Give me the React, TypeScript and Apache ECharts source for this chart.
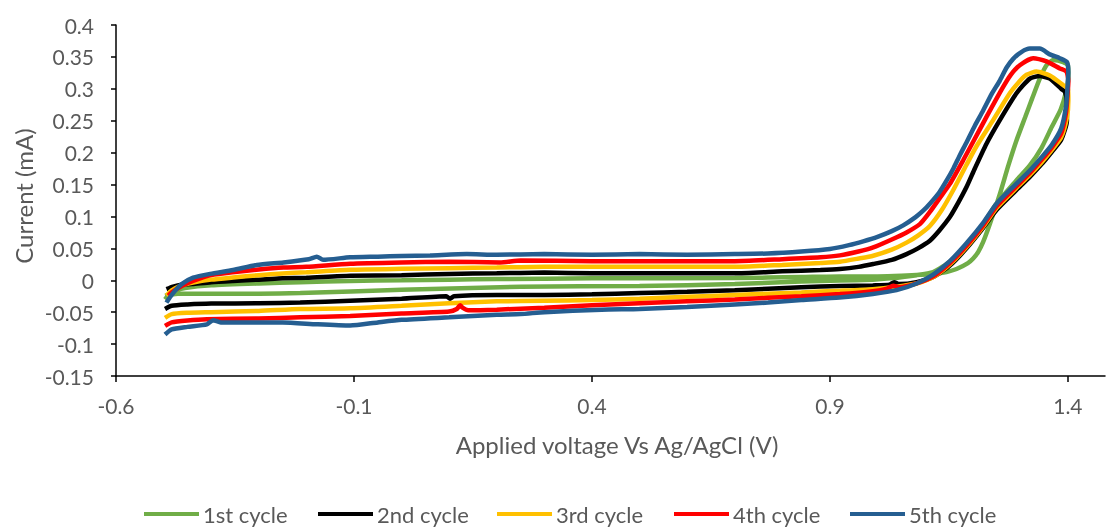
import React, { useEffect, useRef } from "react";
import * as echarts from "echarts";

const voltageTicks = [-0.6, -0.1, 0.4, 0.9, 1.4];
const currentTicks = [-0.15, -0.1, -0.05, 0, 0.05, 0.1, 0.15, 0.2, 0.25, 0.3, 0.35, 0.4];
const seriesNames = ["1st cycle", "2nd cycle", "3rd cycle", "4th cycle", "5th cycle"];
const seriesColors = ["#70AD47", "#000000", "#FFC000", "#FF0000", "#255E91"];

// [voltage (V), current (mA)] — forward scan then reverse scan
const cycle1: [number, number][] = [
  [-0.497, -0.03], [-0.487, -0.021], [-0.476, -0.016], [-0.455, -0.012], [-0.4, -0.008], [-0.3, -0.005],
  [-0.213, -0.003], [-0.108, -0.001], [0.0, 0.0], [0.1, 0.001], [0.2, 0.002], [0.4, 0.003], [0.7, 0.0035],
  [0.84, 0.005], [0.92, 0.006], [1.0, 0.006], [1.05, 0.007], [1.117, 0.0097], [1.145, 0.013], [1.166, 0.0176],
  [1.19, 0.027], [1.201, 0.034], [1.212, 0.045], [1.222, 0.06], [1.236, 0.088], [1.257, 0.135], [1.275, 0.18],
  [1.292, 0.219], [1.31, 0.255], [1.325, 0.285], [1.341, 0.316], [1.355, 0.337], [1.369, 0.345], [1.39, 0.342],
  [1.4, 0.337],
  [1.401, 0.32], [1.396, 0.295], [1.385, 0.268], [1.366, 0.24], [1.345, 0.208], [1.32, 0.18], [1.29, 0.155],
  [1.25, 0.12], [1.222, 0.088], [1.187, 0.054], [1.152, 0.029], [1.117, 0.013], [1.082, 0.008], [1.026, 0.003],
  [0.99, 0.001], [0.921, -0.0005], [0.84, -0.002], [0.7, -0.006], [0.5, -0.009], [0.25, -0.01], [0.0, -0.015],
  [-0.213, -0.02], [-0.3, -0.021], [-0.4, -0.021], [-0.47, -0.021], [-0.497, -0.024],
];
const cycle2: [number, number][] = [
  [-0.494, -0.014], [-0.48, -0.01], [-0.462, -0.007], [-0.44, -0.006], [-0.4, -0.003], [-0.354, -0.001],
  [-0.3, 0.001], [-0.25, 0.003], [-0.2, 0.004], [-0.108, 0.007], [0.0, 0.008], [0.1, 0.01], [0.2, 0.011],
  [0.3, 0.012], [0.4, 0.011], [0.5, 0.011], [0.6, 0.011], [0.7, 0.011], [0.8, 0.014], [0.88, 0.016],
  [0.921, 0.0176], [0.96, 0.021], [0.991, 0.0255], [1.03, 0.032], [1.061, 0.041], [1.085, 0.05], [1.11, 0.062],
  [1.13, 0.078], [1.152, 0.099], [1.17, 0.122], [1.187, 0.146], [1.205, 0.176], [1.229, 0.214], [1.257, 0.251],
  [1.292, 0.293], [1.32, 0.316], [1.341, 0.32], [1.362, 0.316], [1.386, 0.3], [1.394, 0.295],
  [1.398, 0.278], [1.398, 0.25], [1.386, 0.22], [1.366, 0.201], [1.345, 0.182], [1.32, 0.162], [1.29, 0.14],
  [1.25, 0.11], [1.222, 0.082], [1.187, 0.05], [1.152, 0.023], [1.117, 0.005], [1.082, -0.003], [1.045, -0.006],
  [1.035, -0.003], [1.025, -0.007], [0.99, -0.008], [0.921, -0.009], [0.84, -0.011], [0.7, -0.0155], [0.6, -0.018],
  [0.5, -0.02], [0.4, -0.022], [0.3, -0.023], [0.2, -0.023], [0.11, -0.025], [0.102, -0.029], [0.094, -0.025],
  [0.0, -0.029], [-0.108, -0.032], [-0.213, -0.035], [-0.3, -0.036], [-0.4, -0.0365], [-0.45, -0.038],
  [-0.483, -0.04], [-0.497, -0.045],
];
const cycle3: [number, number][] = [
  [-0.494, -0.024], [-0.483, -0.016], [-0.462, -0.008], [-0.438, -0.0035], [-0.4, 0.001], [-0.354, 0.0044],
  [-0.3, 0.008], [-0.25, 0.0107], [-0.2, 0.0125], [-0.108, 0.0165], [0.0, 0.018], [0.1, 0.019], [0.2, 0.02],
  [0.3, 0.021], [0.4, 0.021], [0.5, 0.021], [0.6, 0.021], [0.7, 0.021], [0.8, 0.024], [0.88, 0.027],
  [0.921, 0.029], [0.96, 0.034], [0.991, 0.0385], [1.03, 0.048], [1.061, 0.059], [1.085, 0.07], [1.11, 0.085],
  [1.135, 0.11], [1.159, 0.141], [1.187, 0.181], [1.208, 0.21], [1.243, 0.251], [1.278, 0.293], [1.3, 0.313],
  [1.313, 0.322], [1.334, 0.327], [1.362, 0.321], [1.39, 0.306], [1.4, 0.3],
  [1.401, 0.282], [1.398, 0.255], [1.386, 0.224], [1.366, 0.204], [1.345, 0.185], [1.32, 0.165], [1.29, 0.143],
  [1.25, 0.113], [1.222, 0.084], [1.187, 0.052], [1.152, 0.025], [1.117, 0.005], [1.082, -0.005], [1.04, -0.01],
  [0.99, -0.014], [0.921, -0.0165], [0.84, -0.019], [0.7, -0.023], [0.6, -0.026], [0.5, -0.029], [0.4, -0.031],
  [0.3, -0.032], [0.2, -0.033], [0.1, -0.036], [0.0, -0.04], [-0.108, -0.044], [-0.213, -0.045], [-0.3, -0.048],
  [-0.4, -0.05], [-0.45, -0.051], [-0.483, -0.053], [-0.497, -0.059],
];
const cycle4: [number, number][] = [
  [-0.49, -0.024], [-0.483, -0.019], [-0.462, -0.009], [-0.438, -0.001], [-0.4, 0.008], [-0.35, 0.013],
  [-0.3, 0.017], [-0.248, 0.02], [-0.2, 0.021], [-0.108, 0.026], [0.0, 0.028], [0.1, 0.029], [0.207, 0.028],
  [0.25, 0.031], [0.4, 0.03], [0.5, 0.03], [0.6, 0.03], [0.7, 0.03], [0.8, 0.033], [0.88, 0.036], [0.921, 0.039],
  [0.96, 0.045], [0.991, 0.0515], [1.03, 0.064], [1.061, 0.075], [1.089, 0.088], [1.11, 0.107], [1.13, 0.128],
  [1.152, 0.151], [1.18, 0.188], [1.201, 0.217], [1.229, 0.256], [1.264, 0.303], [1.28, 0.322], [1.299, 0.337],
  [1.327, 0.348], [1.355, 0.343], [1.383, 0.332], [1.397, 0.327],
  [1.401, 0.312], [1.399, 0.288], [1.396, 0.262], [1.386, 0.23], [1.366, 0.208], [1.345, 0.189], [1.32, 0.168],
  [1.29, 0.146], [1.25, 0.116], [1.222, 0.086], [1.187, 0.054], [1.152, 0.027], [1.117, 0.006], [1.082, -0.005],
  [1.045, -0.011], [1.033, -0.0085], [1.02, -0.013], [0.99, -0.017], [0.921, -0.0215], [0.84, -0.025], [0.7, -0.03],
  [0.6, -0.033], [0.5, -0.036], [0.4, -0.039], [0.3, -0.043], [0.2, -0.046], [0.14, -0.047], [0.128, -0.043],
  [0.123, -0.039], [0.116, -0.045], [0.1, -0.049], [0.0, -0.052], [-0.108, -0.056], [-0.213, -0.058],
  [-0.3, -0.06], [-0.409, -0.061], [-0.45, -0.063], [-0.483, -0.066], [-0.497, -0.0715],
];
const cycle5: [number, number][] = [
  [-0.494, -0.035], [-0.487, -0.027], [-0.476, -0.0165], [-0.462, -0.006], [-0.438, 0.004], [-0.402, 0.01],
  [-0.354, 0.016], [-0.304, 0.024], [-0.248, 0.028], [-0.195, 0.033], [-0.178, 0.037], [-0.165, 0.032],
  [-0.108, 0.036], [-0.05, 0.037], [0.0, 0.038], [0.06, 0.039], [0.137, 0.041], [0.2, 0.04], [0.3, 0.041],
  [0.4, 0.04], [0.5, 0.041], [0.6, 0.04], [0.7, 0.041], [0.77, 0.042], [0.84, 0.045], [0.9, 0.049], [0.94, 0.055],
  [0.97, 0.061], [1.0, 0.068], [1.03, 0.077], [1.054, 0.086], [1.08, 0.099], [1.096, 0.109], [1.11, 0.12],
  [1.13, 0.138], [1.145, 0.156], [1.16, 0.176], [1.173, 0.196], [1.187, 0.216], [1.205, 0.243], [1.222, 0.266],
  [1.24, 0.292], [1.257, 0.313], [1.271, 0.333], [1.285, 0.347], [1.303, 0.358], [1.32, 0.363], [1.341, 0.363],
  [1.362, 0.354], [1.383, 0.348], [1.398, 0.342],
  [1.401, 0.326], [1.399, 0.3], [1.396, 0.272], [1.386, 0.238], [1.366, 0.212], [1.345, 0.193], [1.32, 0.172],
  [1.29, 0.15], [1.25, 0.12], [1.222, 0.09], [1.187, 0.058], [1.152, 0.03], [1.117, 0.009], [1.082, -0.005],
  [1.04, -0.0155], [0.99, -0.0215], [0.92, -0.027], [0.84, -0.031], [0.77, -0.035], [0.7, -0.038], [0.6, -0.042],
  [0.5, -0.045], [0.42, -0.046], [0.3, -0.05], [0.25, -0.053], [0.2, -0.054], [0.1, -0.058], [0.0, -0.062],
  [-0.05, -0.066], [-0.108, -0.071], [-0.178, -0.069], [-0.25, -0.066], [-0.318, -0.066], [-0.38, -0.066],
  [-0.396, -0.0625], [-0.409, -0.069], [-0.45, -0.073], [-0.483, -0.077], [-0.497, -0.085],
];
const cycles = [cycle1, cycle2, cycle3, cycle4, cycle5];
const legendLefts = [144, 318, 497, 674, 850];

const FONT = "Lato, 'Open Sans', sans-serif";
const GREY = "#595959";

export default function App() {
  const ref = useRef<HTMLDivElement>(null);
  useEffect(() => {
    if (!ref.current) return;
    const chart = echarts.init(ref.current, null, { renderer: "svg" });
    chart.setOption({
      animation: false,
      grid: { left: 116, right: 2, top: 25, bottom: 151, containLabel: false },
      xAxis: {
        type: "value",
        min: -0.6,
        max: 1.478,
        axisLine: { onZero: false, lineStyle: { color: "#000", width: 1.5 } },
        axisTick: { customValues: voltageTicks, length: 6, lineStyle: { color: "#000", width: 1.5 } },
        axisLabel: { customValues: voltageTicks, margin: 19, color: GREY, fontSize: 21, fontFamily: FONT },
        splitLine: { show: false },
      },
      yAxis: {
        type: "value",
        min: -0.15,
        max: 0.4,
        axisLine: { show: true, onZero: false, lineStyle: { color: "#000", width: 1.5 } },
        axisTick: { show: true, customValues: currentTicks, length: 5, lineStyle: { color: "#000", width: 1.5 } },
        axisLabel: { customValues: currentTicks, margin: 22, color: GREY, fontSize: 21, fontFamily: FONT },
        splitLine: { show: false },
      },
      legend: seriesNames.map((n, i) => ({
        data: [{ name: n, icon: "rect" }],
        left: legendLefts[i],
        top: 503,
        padding: 0,
        itemWidth: 55,
        itemHeight: 4,
        itemStyle: { color: seriesColors[i], borderWidth: 0 },
        textStyle: { color: GREY, fontSize: 22, fontFamily: FONT, padding: [0, 0, 0, -1] },
      })),
      graphic: [
        {
          type: "text",
          x: 617,
          y: 444,
          style: { text: "Applied voltage Vs Ag/AgCl (V)", fill: GREY, fontSize: 24, fontFamily: FONT, align: "center", verticalAlign: "middle" },
        },
        {
          type: "text",
          x: 23,
          y: 196,
          rotation: Math.PI / 2,
          style: { text: "Current (mA)", fill: GREY, fontSize: 24, fontFamily: FONT, align: "center", verticalAlign: "middle" },
        },
      ],
      series: cycles.map((d, i) => ({
        name: seriesNames[i],
        type: "line",
        data: d,
        symbol: "none",
        smooth: 0.2,
        color: seriesColors[i],
        lineStyle: { color: seriesColors[i], width: 4.5 },
      })),
    });
    return () => chart.dispose();
  }, []);
  return <div ref={ref} style={{ position: "fixed", left: 0, top: 0, width: 1107, height: 527 }} />;
}
